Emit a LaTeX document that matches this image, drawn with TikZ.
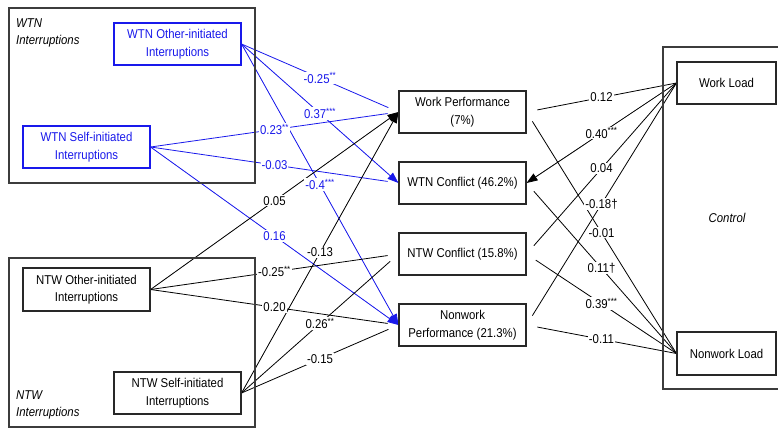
\documentclass[tikz,border=0pt]{standalone}
\usepackage{fontspec}
\setmainfont{Liberation Sans}[FakeStretch=0.89]
\usetikzlibrary{arrows.meta}
\definecolor{wtnblue}{RGB}{25,25,235}
\definecolor{framegray}{RGB}{60,60,60}
\definecolor{boxline}{RGB}{40,40,40}
\pgfdeclarelayer{lines}
\pgfsetlayers{lines,main}
% path coefficient: line drawn underneath, its label on top
\newcommand\pathlink[5]{%
  \begin{pgfonlayer}{lines}\draw[#1] (#2) -- (#3);\end{pgfonlayer}
  \path (#2) -- (#3) node[midway,coef,#4]{#5};}
\newcommand\sig[1]{\textsuperscript{#1}}
\begin{document}
\begin{tikzpicture}[x=1pt,y=-1pt,
  every node/.style={font=\fontsize{12.8}{17.5}\selectfont},
  varbox/.style={draw=boxline, line width=1.1pt, minimum width=127pt,
    minimum height=42pt, align=center, inner sep=0pt, fill=white},
  ctrlbox/.style={varbox, minimum width=99pt},
  bluebox/.style={varbox, draw=wtnblue, text=wtnblue},
  frame/.style={draw=framegray, line width=1.3pt, inner sep=0pt},
  grouplbl/.style={font=\fontsize{12.8}{17}\selectfont\itshape, align=left,
    inner sep=0pt, anchor=north west},
  coef/.style={fill=white, inner sep=1pt},
  bluecoef/.style={text=wtnblue},
  plain/.style={line width=0.8pt, shorten >=11pt},
  arrow/.style={line width=0.8pt, -{Triangle[length=11pt,width=8pt]}},
  blue/.style={draw=wtnblue, fill=wtnblue}]
\useasboundingbox (0,0) rectangle (778,429);

% group frames
\node[frame, minimum width=246pt, minimum height=175pt] (wtnframe) at (132,95.5) {};
\node[frame, minimum width=246pt, minimum height=169pt] (ntwframe) at (132,342.5) {};
\node[frame, minimum width=130pt, minimum height=342pt] (ctrlframe) at (728,218) {};
\node[grouplbl] (wtnlbl) at (16,18.8) {WTN\\Interruptions};
\node[grouplbl] (ntwlbl) at (16,390.8) {NTW\\Interruptions};
\node[font=\fontsize{12.8}{17}\selectfont\itshape] (ctrllbl) at (727,218) {Control};

% predictors
\node[bluebox] (woi) at (177.5,44) {WTN Other-initiated\\Interruptions};
\node[bluebox] (wsi) at (86.5,147) {WTN Self-initiated\\Interruptions};
\node[varbox, minimum height=43pt] (noi) at (86.5,289.5) {NTW Other-initiated\\Interruptions};
\node[varbox] (nsi) at (177.5,393) {NTW Self-initiated\\Interruptions};

% outcomes
\node[varbox] (wp) at (462.5,112) {Work Performance\\(7\%)};
\node[varbox] (wc) at (462.5,183) {WTN Conflict (46.2\%)};
\node[varbox] (nc) at (462.5,254) {NTW Conflict (15.8\%)};
\node[varbox] (np) at (462.5,325) {Nonwork\\Performance (21.3\%)};

% controls
\node[ctrlbox] (wl) at (726.5,83) {Work Load};
\node[ctrlbox, minimum height=43pt] (nl) at (726.5,353.5) {Nonwork Load};

% WTN interruption paths
\pathlink{plain,wtnblue}{woi.east}{wp.west}{bluecoef}{-0.25\sig{**}}
\pathlink{arrow,blue}{woi.east}{wc.west}{bluecoef}{0.37\sig{***}}
\pathlink{arrow,blue}{woi.east}{np.west}{bluecoef}{-0.4\sig{***}}
\pathlink{plain,wtnblue}{wsi.east}{wp.west}{bluecoef}{0.23\sig{**}}
\pathlink{plain,wtnblue}{wsi.east}{wc.west}{bluecoef}{-0.03}
\pathlink{arrow,blue}{wsi.east}{np.west}{bluecoef}{0.16}

% NTW interruption paths
\pathlink{arrow,fill=black}{noi.east}{wp.west}{}{0.05}
\pathlink{plain}{noi.east}{nc.west}{}{-0.25\sig{**}}
\pathlink{plain}{noi.east}{np.west}{}{0.20}
\pathlink{arrow,fill=black}{nsi.east}{wp.west}{}{-0.13}
\pathlink{plain}{nsi.east}{nc.west}{}{0.26\sig{**}}
\pathlink{plain}{nsi.east}{np.west}{}{-0.15}

% control paths
\pathlink{plain}{wl.west}{wp.east}{}{0.12}
\pathlink{arrow,fill=black}{wl.west}{wc.east}{}{0.40\sig{***}}
\pathlink{plain}{wl.west}{nc.east}{}{0.04}
\pathlink{plain}{wl.west}{np.east}{}{-0.18†}
\pathlink{plain}{nl.west}{wp.east}{}{-0.01}
\pathlink{plain}{nl.west}{wc.east}{}{0.11†}
\pathlink{plain}{nl.west}{nc.east}{}{0.39\sig{***}}
\pathlink{plain}{nl.west}{np.east}{}{-0.11}
\end{tikzpicture}
\end{document}
